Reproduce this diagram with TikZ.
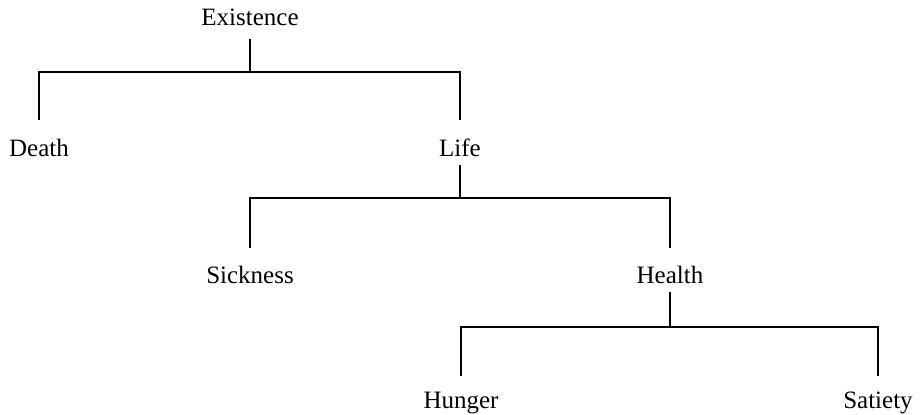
\documentclass[tikz,border=0pt]{standalone}
\usepackage{fontspec}
\setmainfont{Liberation Serif}
\usepackage{tikz}
\usetikzlibrary{
  calc,
  positioning,
}
\tikzset{
  term/.style={inner sep=0pt,anchor=base,text height=17pt,text depth=5pt,font=\fontsize{25}{30}\selectfont},
  branch/.style={line width=1.6pt,line cap=rect},
}

\begin{document}
\begin{tikzpicture}[x=1pt,y=-1pt]
      \useasboundingbox (0,0) rectangle (924,415);
      \node[term] (ex)     at (250,25)  {Existence};
      \node[term] (death)  at (39,156)  {Death};
      \node[term] (life)   at (460,156) {Life};
      \node[term] (sick)   at (250,283) {Sickness};
      \node[term] (health) at (670,283) {Health};
      \node[term] (hunger) at (461,408) {Hunger};
      \node[term] (sati)   at (878,408) {Satiety};

      \draw[branch] ([yshift=-10pt]ex.south) -- ++(0,32) coordinate (j1);
      \draw[branch] ([yshift=20pt]death.north) |- (j1) -| ([yshift=20pt]life.north);
      \draw[branch] ([yshift=-5pt]life.south) -- ++(0,32) coordinate (j2);
      \draw[branch] ([yshift=19pt]sick.north) |- (j2) -| ([yshift=19pt]health.north);
      \draw[branch] ([yshift=-5pt]health.south) -- ++(0,34) coordinate (j3);
      \draw[branch] ([yshift=16pt]hunger.north) |- (j3) -| ([yshift=16pt]sati.north);
    \end{tikzpicture}
\end{document}
